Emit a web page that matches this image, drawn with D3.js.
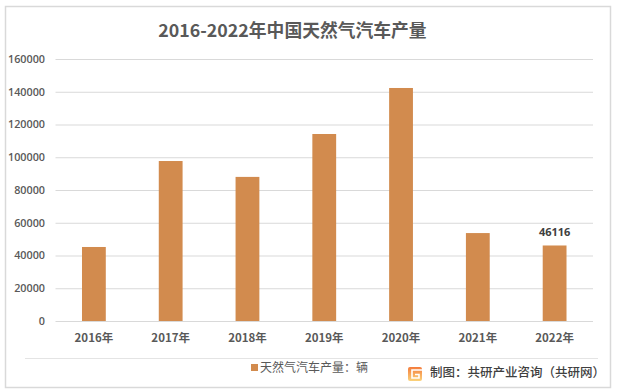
<!DOCTYPE html>
<html>
<head>
<meta charset="utf-8">
<script src="https://cdn.jsdelivr.net/npm/d3@7"></script>
<style>
	html, body { margin: 0; padding: 0; background: #fff; }
	svg { display: block; }
	text { font-family: "Noto Sans CJK SC", "Open Sans", sans-serif; }
</style>
</head>
<body>
<div id="chart"></div>
<script>
var years = ['2016年', '2017年', '2018年', '2019年', '2020年', '2021年', '2022年'];
var output = [45200, 97700, 88000, 114200, 142300, 53700, 46116];
var y_ticks = [0, 20000, 40000, 60000, 80000, 100000, 120000, 140000, 160000];
var labelled_year = '2022年';

var title_text = '2016-2022年中国天然气汽车产量';
var legend_text = '天然气汽车产量：辆';
var source_text = '制图：共研产业咨询（共研网）';

var width = 618, height = 392;
var margin = {top: 59, right: 25, bottom: 71, left: 55.5};

var svg = d3.select('#chart')
	.append('svg')
	.attr('width', width)
	.attr('height', height);

// Outer frame
svg.append('rect')
	.attr('x', 5.5).attr('y', 6.5)
	.attr('width', 605).attr('height', 381)
	.attr('fill', '#fff')
	.attr('stroke', '#d9d9d9')
	.attr('stroke-width', 1.5);

var x = d3.scaleBand()
	.domain(years)
	.range([margin.left, width - margin.right])
	.paddingInner(0.69)
	.paddingOuter(0.345);

var y = d3.scaleLinear()
	.domain([0, 160000])
	.range([height - margin.bottom, margin.top]);

// Gridlines
svg.append('g')
	.selectAll('line')
	.data(y_ticks)
	.enter()
	.append('line')
	.attr('x1', margin.left)
	.attr('x2', width - margin.right)
	.attr('y1', function(d) { return y(d) + 0.5; })
	.attr('y2', function(d) { return y(d) + 0.5; })
	.attr('stroke', '#d9d9d9')
	.attr('stroke-width', 1);

// Bars
svg.append('g')
	.selectAll('rect')
	.data(output)
	.enter()
	.append('rect')
	.attr('x', function(d, i) { return x(years[i]); })
	.attr('y', function(d) { return y(d); })
	.attr('width', x.bandwidth())
	.attr('height', function(d) { return y(0) - y(d); })
	.attr('fill', '#d28b4e');

// Y axis
var y_axis = d3.axisLeft(y).tickValues(y_ticks).tickSize(0).tickPadding(10.5).tickFormat(d3.format('d'));
var y_g = svg.append('g')
	.attr('transform', 'translate(' + margin.left + ',0)')
	.call(y_axis);
y_g.select('.domain').remove();
y_g.selectAll('text')
	.attr('font-size', 10.8)
	.attr('font-weight', 600)
	.attr('fill', '#595959')
	.style('font-family', '"Open Sans", sans-serif');

// X axis
var x_axis = d3.axisBottom(x).tickSize(0).tickPadding(13);
var x_g = svg.append('g')
	.attr('transform', 'translate(0,' + y(0) + ')')
	.call(x_axis);
x_g.select('.domain').remove();
x_g.selectAll('text')
	.attr('font-size', 11.5)
	.attr('font-weight', 700)
	.attr('fill', '#595959');

// Data label on the last bar only
svg.append('text')
	.attr('x', x(labelled_year) + x.bandwidth() / 2)
	.attr('y', y(output[years.indexOf(labelled_year)]) - 9)
	.attr('text-anchor', 'middle')
	.attr('font-size', 11)
	.attr('font-weight', 700)
	.attr('fill', '#404040')
	.style('font-family', '"Open Sans", sans-serif')
	.text(output[years.indexOf(labelled_year)]);

// Title
svg.append('text')
	.attr('x', 292.5)
	.attr('y', 37)
	.attr('text-anchor', 'middle')
	.attr('font-size', 17.8)
	.attr('font-weight', 700)
	.attr('fill', '#595959')
	.text(title_text);

// Separator above legend
svg.append('line')
	.attr('x1', 25).attr('x2', 598)
	.attr('y1', 358.5).attr('y2', 358.5)
	.attr('stroke', '#e4e4e4');

// Legend
svg.append('rect')
	.attr('x', 251).attr('y', 364)
	.attr('width', 7).attr('height', 7)
	.attr('fill', '#d28b4e');
svg.append('text')
	.attr('x', 260).attr('y', 372)
	.attr('font-size', 12)
	.attr('fill', '#595959')
	.text(legend_text);

// Source logo
var logo = svg.append('g').attr('transform', 'translate(408,367)');
var grad = svg.append('defs').append('linearGradient')
	.attr('id', 'logo_grad')
	.attr('x1', 0).attr('y1', 0).attr('x2', 0).attr('y2', 1);
grad.append('stop').attr('offset', 0).attr('stop-color', '#f47c3c');
grad.append('stop').attr('offset', 1).attr('stop-color', '#fbd27a');
logo.append('rect')
	.attr('width', 14).attr('height', 14).attr('rx', 2)
	.attr('fill', 'url(#logo_grad)');
logo.append('path')
	.attr('d', 'M14 3H4V11H11V7.5H7')
	.attr('fill', 'none')
	.attr('stroke', '#fff')
	.attr('stroke-width', 1.6);

// Source text
svg.append('text')
	.attr('x', 430).attr('y', 377)
	.attr('font-size', 12.5)
	.attr('font-weight', 500)
	.attr('fill', '#404040')
	.text(source_text);
</script>
</body>
</html>
